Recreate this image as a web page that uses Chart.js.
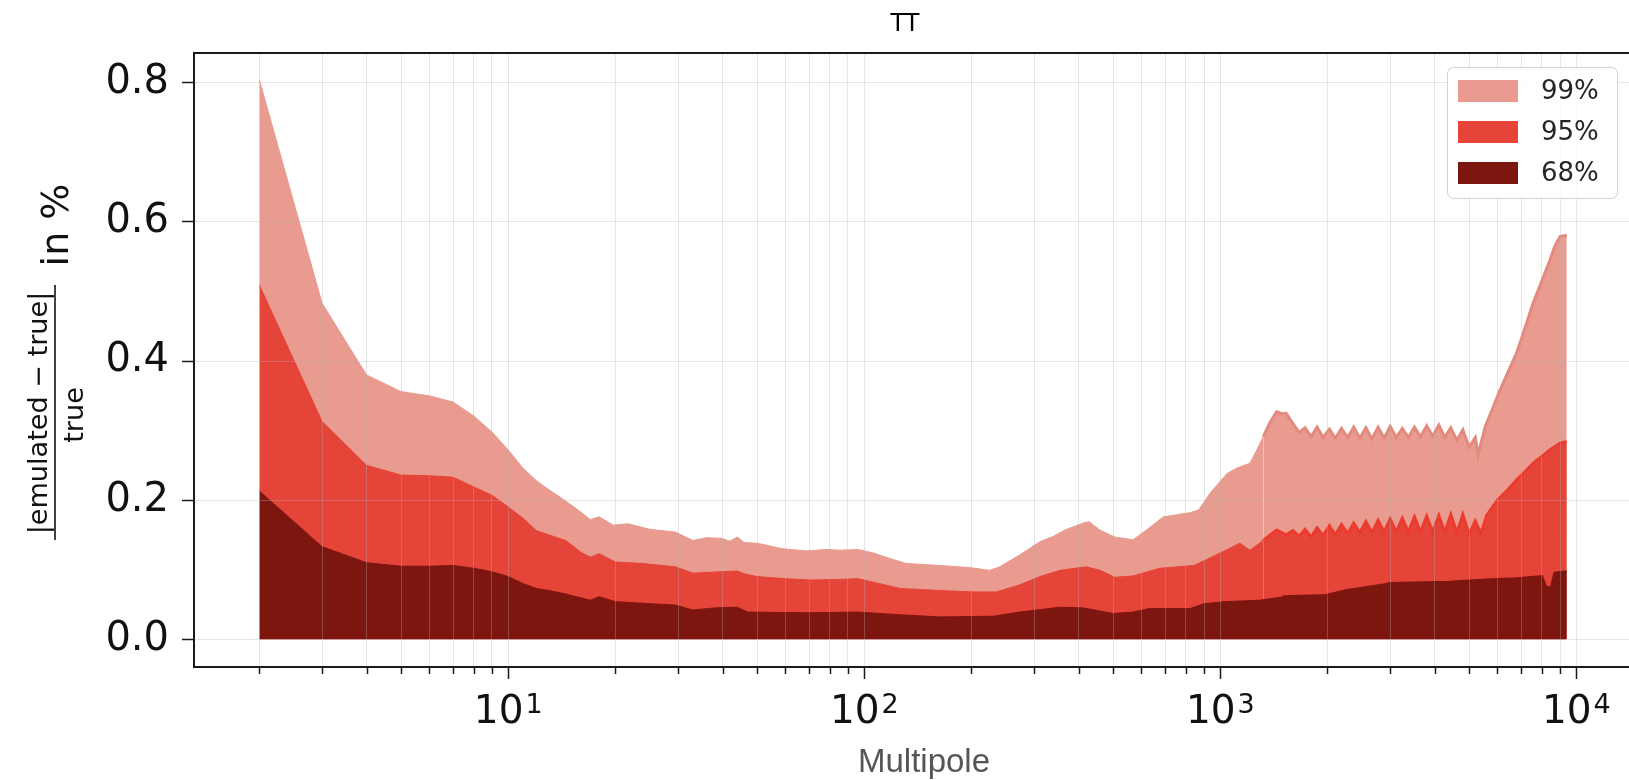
<!DOCTYPE html>
<html>
<head>
<meta charset="utf-8">
<title>TT</title>
<script src="https://cdn.jsdelivr.net/npm/chart.js@4.4.1/dist/chart.umd.min.js"></script>
<style>
  html, body { margin: 0; padding: 0; background: #fff; overflow: hidden; }
  #chart { display: block; }
</style>
</head>
<body>
<canvas id="chart" width="1629" height="780"></canvas>
<script>
// Relative emulator error bands for TT, per multipole
const ell99 = [
  2, 3, 4, 5, 6, 7, 8, 9, 10, 11,
  12, 13, 14, 15.5, 17, 18, 19.7, 21.7, 25, 29.5,
  33, 36, 39.6, 42, 44, 46, 50, 59, 69, 78,
  86, 96, 106, 118, 131, 163, 198, 225, 240, 273,
  311, 340, 366, 412, 428, 459, 505, 569, 620, 692,
  822, 870, 936, 1043, 1110, 1211, 1260, 1320, 1380, 1440,
  1500, 1530, 1600, 1665, 1730, 1800, 1870, 1945, 2025, 2105,
  2190, 2280, 2370, 2465, 2565, 2665, 2775, 2885, 3000, 3120,
  3245, 3375, 3510, 3650, 3800, 3950, 4110, 4270, 4440, 4620,
  4800, 5000, 5200, 5300, 5400, 5550, 5800, 6100, 6400, 6790,
  7150, 7560, 8000, 8430, 8700, 9000, 9400
];
const err99 = [
  0.804, 0.483, 0.380, 0.356, 0.350, 0.341, 0.321, 0.298, 0.272, 0.246,
  0.228, 0.215, 0.204, 0.188, 0.172, 0.176, 0.164, 0.166, 0.158, 0.154,
  0.142, 0.146, 0.145, 0.141, 0.147, 0.139, 0.138, 0.130, 0.127, 0.129,
  0.128, 0.129, 0.124, 0.116, 0.109, 0.106, 0.103, 0.099, 0.104, 0.121,
  0.140, 0.148, 0.157, 0.167, 0.169, 0.157, 0.147, 0.143, 0.157, 0.176,
  0.182, 0.186, 0.210, 0.238, 0.246, 0.253, 0.270, 0.291, 0.312, 0.327,
  0.324, 0.325, 0.310, 0.297, 0.304, 0.291, 0.305, 0.290, 0.302, 0.289,
  0.303, 0.290, 0.305, 0.289, 0.304, 0.288, 0.305, 0.289, 0.306, 0.290,
  0.303, 0.290, 0.305, 0.291, 0.307, 0.292, 0.308, 0.290, 0.304, 0.286,
  0.301, 0.276, 0.290, 0.265, 0.282, 0.306, 0.330, 0.358, 0.382, 0.411,
  0.445, 0.483, 0.515, 0.545, 0.565, 0.579, 0.581
];

const ell95 = [
  2, 3, 4, 5, 6, 7, 8, 9, 10, 11,
  12, 13, 14.5, 16, 17, 18, 20, 23.7, 29.5, 33,
  39.6, 44, 46, 50, 60, 71, 85, 96, 106, 126,
  163, 202, 235, 273, 311, 355, 420, 460, 505, 569,
  676, 845, 990, 1135, 1211, 1320, 1440, 1530, 1600, 1665,
  1730, 1800, 1870, 1945, 2025, 2105, 2190, 2280, 2370, 2465,
  2565, 2665, 2775, 2885, 3000, 3120, 3245, 3375, 3510, 3650,
  3800, 3950, 4110, 4270, 4440, 4620, 4800, 5000, 5200, 5400,
  5600, 6000, 6400, 6790, 7150, 7560, 8000, 8430, 9000, 9400
];
const err95 = [
  0.509, 0.313, 0.250, 0.236, 0.235, 0.233, 0.219, 0.207, 0.190, 0.174,
  0.156, 0.150, 0.142, 0.125, 0.118, 0.123, 0.111, 0.109, 0.104, 0.095,
  0.097, 0.098, 0.094, 0.090, 0.087, 0.085, 0.086, 0.087, 0.082, 0.073,
  0.070, 0.068, 0.068, 0.078, 0.090, 0.099, 0.104, 0.099, 0.089, 0.091,
  0.102, 0.106, 0.123, 0.138, 0.128, 0.142, 0.157, 0.150, 0.156, 0.148,
  0.158, 0.147, 0.160, 0.149, 0.163, 0.150, 0.165, 0.152, 0.167, 0.153,
  0.169, 0.153, 0.171, 0.154, 0.173, 0.154, 0.174, 0.154, 0.176, 0.154,
  0.177, 0.154, 0.178, 0.153, 0.179, 0.153, 0.179, 0.151, 0.170, 0.152,
  0.178, 0.200, 0.214, 0.229, 0.240, 0.253, 0.263, 0.272, 0.282, 0.284
];

const ell68 = [
  2, 3, 4, 5, 6, 7, 8, 9, 10, 11,
  12, 13, 14.5, 17, 18, 20, 29.5, 33, 38, 44,
  47, 69, 96, 118, 163, 230, 273, 355, 412, 500,
  569, 631, 822, 900, 1030, 1290, 1500, 1980, 2270, 2870,
  3000, 4400, 5550, 6800, 8000, 8200, 8500, 8700, 9400
];
const err68 = [
  0.213, 0.133, 0.110, 0.105, 0.105, 0.106, 0.102, 0.097, 0.090, 0.080,
  0.073, 0.070, 0.065, 0.056, 0.061, 0.054, 0.049, 0.042, 0.045, 0.046,
  0.039, 0.038, 0.039, 0.036, 0.032, 0.033, 0.039, 0.046, 0.045, 0.037,
  0.039, 0.044, 0.044, 0.051, 0.054, 0.056, 0.061, 0.063, 0.070, 0.078,
  0.080, 0.082, 0.085, 0.087, 0.090, 0.075, 0.073, 0.095, 0.097
];

const bandLabels = ['99%', '95%', '68%'];
const yTicks = [0, 0.2, 0.4, 0.6, 0.8];
const xTicks = [
  2, 3, 4, 5, 6, 7, 8, 9,
  10, 20, 30, 40, 50, 60, 70, 80, 90,
  100, 200, 300, 400, 500, 600, 700, 800, 900,
  1000, 2000, 3000, 4000, 5000, 6000, 7000, 8000, 9000,
  10000
];
const xMajorExponents = [1, 2, 3, 4];

const bandColours = ['#E99B8F', '#E54438', '#7E1610'];
// noisier high-multipole edges show up as a slightly different rim
const edgeColours = ['#E38A7E', '#EC3A2E', '#7E1610'];
const noisyFrom = 1300;
const gridColour = 'rgba(176,176,176,0.32)';
const frameColour = '#1a1a1a';

function toPoints(ls, vals) {
  return ls.map((l, i) => ({ x: l, y: vals[i] }));
}

// axes frame, x ticks with powers of ten, titles, y label fraction and legend
const decorations = {
  id: 'decorations',
  afterDraw(chart) {
    const { ctx, chartArea: a, scales: { x } } = chart;
    ctx.save();

    ctx.strokeStyle = frameColour;
    ctx.lineWidth = 2;
    ctx.beginPath();
    ctx.moveTo(a.right + 2, a.top);
    ctx.lineTo(a.left, a.top);
    ctx.lineTo(a.left, a.bottom);
    ctx.lineTo(a.right + 2, a.bottom);
    ctx.stroke();

    // tick marks below the axis
    ctx.lineWidth = 1.5;
    xTicks.forEach(v => {
      const px = Math.round(x.getPixelForValue(v)) + 0.5;
      const major = xMajorExponents.some(e => Math.pow(10, e) === v);
      ctx.beginPath();
      ctx.moveTo(px, a.bottom + 1);
      ctx.lineTo(px, a.bottom + (major ? 12 : 7));
      ctx.stroke();
    });

    // 10^n labels
    ctx.fillStyle = '#111';
    ctx.textBaseline = 'alphabetic';
    ctx.textAlign = 'left';
    xMajorExponents.forEach(e => {
      const px = x.getPixelForValue(Math.pow(10, e));
      ctx.font = '39px "DejaVu Sans"';
      const wBase = ctx.measureText('10').width;
      ctx.font = '27px "DejaVu Sans"';
      const wExp = ctx.measureText(String(e)).width;
      const left = px - (wBase + 2 + wExp) / 2;
      ctx.font = '39px "DejaVu Sans"';
      ctx.fillText('10', left, 723);
      ctx.font = '27px "DejaVu Sans"';
      ctx.fillText(String(e), left + wBase + 2, 713);
    });

    // panel title
    ctx.textAlign = 'center';
    ctx.font = '24px "DejaVu Sans"';
    ctx.fillStyle = '#000';
    ctx.fillText('TT', 905, 31);

    // axis title
    ctx.font = '33px "Liberation Sans", Arial, sans-serif';
    ctx.fillStyle = '#555';
    ctx.fillText('Multipole', 924, 772);

    // y label: |emulated - true| / true  in %
    ctx.fillStyle = '#111';
    ctx.save();
    ctx.translate(68, 225);
    ctx.rotate(-Math.PI / 2);
    ctx.font = '38px "DejaVu Sans"';
    ctx.textAlign = 'center';
    ctx.fillText('in %', 0, 0);
    ctx.restore();

    const num = '|emulated \u2212 true|';
    ctx.font = '28px "DejaVu Sans"';
    const fs = 28 * 243 / ctx.measureText(num).width;
    ctx.font = fs.toFixed(1) + 'px "DejaVu Sans"';
    ctx.save();
    ctx.translate(47, 413);
    ctx.rotate(-Math.PI / 2);
    ctx.textAlign = 'center';
    ctx.fillText(num, 0, 0);
    ctx.restore();
    ctx.save();
    ctx.translate(83, 415);
    ctx.rotate(-Math.PI / 2);
    ctx.textAlign = 'center';
    ctx.fillText('true', 0, 0);
    ctx.restore();
    ctx.strokeStyle = '#111';
    ctx.lineWidth = 1.6;
    ctx.beginPath();
    ctx.moveTo(55, 285);
    ctx.lineTo(55, 540);
    ctx.stroke();

    // legend box in the upper right corner
    ctx.beginPath();
    ctx.roundRect(1447.5, 67.5, 170, 131, 6);
    ctx.fillStyle = 'rgba(255,255,255,0.85)';
    ctx.fill();
    ctx.strokeStyle = '#d2d2d2';
    ctx.lineWidth = 1;
    ctx.stroke();
    ctx.textAlign = 'left';
    ctx.textBaseline = 'middle';
    ctx.font = '26px "DejaVu Sans"';
    chart.data.datasets.forEach((ds, i) => {
      const cy = 91 + i * 41;
      ctx.fillStyle = ds.backgroundColor;
      ctx.fillRect(1458, cy - 11, 60, 22);
      ctx.fillStyle = '#262626';
      ctx.fillText(ds.label, 1541, cy + 1);
    });

    ctx.restore();
  }
};

const series = [[ell99, err99], [ell95, err95], [ell68, err68]];

new Chart(document.getElementById('chart'), {
  type: 'line',
  data: {
    datasets: series.map((s, i) => ({
      label: bandLabels[i],
      data: toPoints(s[0], s[1]),
      backgroundColor: bandColours[i],
      borderColor: bandColours[i],
      borderWidth: 1,
      segment: {
        borderColor: c => c.p0.parsed.x >= noisyFrom ? edgeColours[i] : bandColours[i],
        borderWidth: c => c.p0.parsed.x >= noisyFrom ? 3 : 1
      },
      fill: 'origin',
      pointRadius: 0,
      tension: 0,
      order: 3 - i
    }))
  },
  options: {
    responsive: false,
    animation: false,
    devicePixelRatio: 1,
    layout: { padding: { top: 53, left: 0, right: 0, bottom: 0 } },
    plugins: {
      legend: { display: false },
      tooltip: { enabled: false },
      title: { display: false }
    },
    scales: {
      x: {
        type: 'logarithmic',
        min: 1.31,
        max: 14060,
        afterBuildTicks: s => { s.ticks = xTicks.map(v => ({ value: v })); },
        afterFit: s => { s.height = 113; },
        ticks: { display: false },
        grid: { color: gridColour, lineWidth: 1, drawTicks: false, z: 1 },
        border: { display: false }
      },
      y: {
        type: 'linear',
        min: -0.04,
        max: 0.843,
        afterBuildTicks: s => { s.ticks = yTicks.map(v => ({ value: v })); },
        afterFit: s => { s.width = 194; },
        ticks: {
          callback: v => v.toFixed(1),
          font: { size: 40, family: 'DejaVu Sans' },
          color: '#111',
          padding: 13
        },
        grid: {
          color: gridColour,
          lineWidth: 1,
          z: 1,
          drawTicks: true,
          tickLength: 12,
          tickColor: frameColour,
          tickWidth: 1.5
        },
        border: { display: false }
      }
    }
  },
  plugins: [decorations]
});
</script>
</body>
</html>
